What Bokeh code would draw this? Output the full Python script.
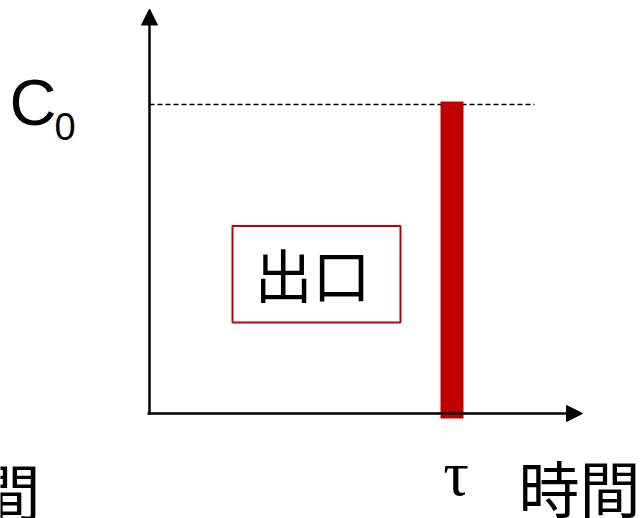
from bokeh.plotting import figure
from bokeh.models import Arrow, NormalHead, Range1d
from bokeh.core.properties import value
from bokeh.embed import file_html
from bokeh.resources import INLINE

# ---- data (schematic: outlet concentration of an ideal plug-flow reactor) ----
tau = [1.0]            # residence time
C0 = [1.0]             # inlet concentration
time_label = "時間"
conc_label = "C"
conc_sub = "0"
tau_label = "τ"
box_label = "出口"

# ---- layout: picture pixel -> data mapping ----
W, H = 640, 518
ox, oy = 149.0, 413.0      # origin in picture pixels
sx, sy = 302.5, 309.0      # pixels per data unit


def X(px):
    return (px - ox) / sx


def Y(py):
    return (oy - py) / sy


p = figure(width=W, height=H, output_backend="svg", toolbar_location=None,
           x_range=Range1d(X(0), X(W)), y_range=Range1d(Y(H), Y(0)),
           min_border=0, min_border_left=0, min_border_right=0,
           min_border_top=0, min_border_bottom=0)
p.axis.visible = False
p.grid.visible = False
p.outline_line_color = None
p.background_fill_color = "white"
p.border_fill_color = "white"

# dashed line at C0
p.segment(x0=[0], y0=C0, x1=[X(534)], y1=C0, line_color="black",
          line_width=1.6, line_dash="5 3")

# red bar at tau (pulse)
p.vbar(x=tau, width=23 / sx, top=[C0[0] + 3 / sy], bottom=[-5 / sy],
       fill_color="#c00000", line_color=None)

# axes with arrows
p.add_layout(Arrow(end=NormalHead(size=16, fill_color="black", line_color="black"),
                   x_start=0, y_start=-1 / sy, x_end=0, y_end=Y(8.5),
                   line_color="black", line_width=2.5))
p.add_layout(Arrow(end=NormalHead(size=16, fill_color="black", line_color="black"),
                   x_start=X(147), y_start=0, x_end=X(582), y_end=0,
                   line_color="black", line_width=2.5))

# label box
p.quad(left=[X(232)], right=[X(400)], top=[Y(225.5)], bottom=[Y(322)],
       fill_color=None, line_color="#c00000", line_width=2)
p.text(x=[X(312)], y=[Y(272)], text=[box_label], text_align="center",
       text_baseline="middle", text_font=value("Noto Sans CJK JP"),
       text_font_size="58px", text_color="black")

# C0 label
p.text(x=[X(9)], y=[Y(102)], text=[conc_label], text_align="left",
       text_baseline="middle", text_font=value("Liberation Sans"),
       text_font_size="65px", text_color="black")
p.text(x=[X(54)], y=[Y(126)], text=[conc_sub], text_align="left",
       text_baseline="middle", text_font=value("Liberation Sans"),
       text_font_size="38px", text_color="black")

# tau label
p.text(x=[X(455.5)], y=[Y(473)], text=[tau_label], text_align="center",
       text_baseline="middle", text_font=value("Liberation Serif"),
       text_font_size="64px", text_color="black")

# time labels
p.text(x=[X(518)], y=[Y(486)], text=[time_label], text_align="left",
       text_baseline="middle", text_font=value("Noto Sans CJK JP"),
       text_font_size="61px", text_color="black")
p.text(x=[X(40)], y=[Y(489)], text=[time_label], text_align="right",
       text_baseline="middle", text_font=value("Noto Sans CJK JP"),
       text_font_size="61px", text_color="black")

open("out.html", "w").write(file_html(p, INLINE))
